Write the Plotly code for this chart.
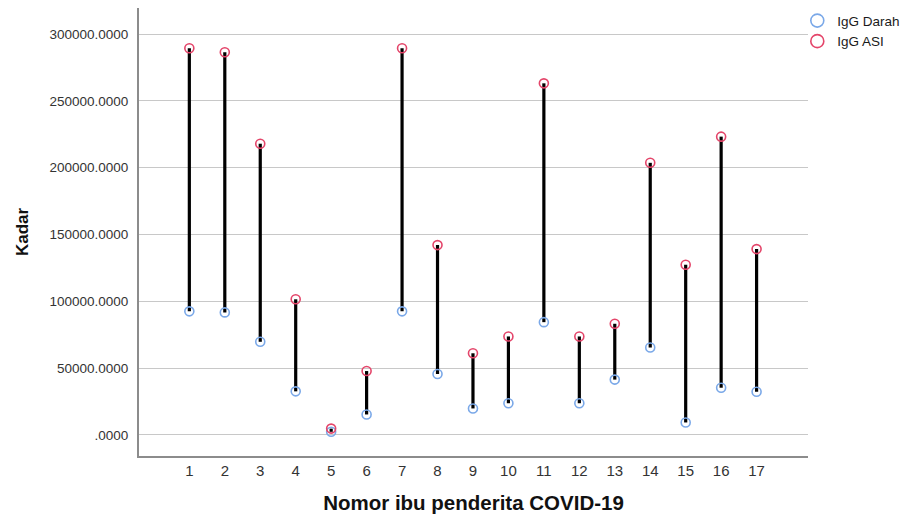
import plotly.graph_objects as go

nomor = list(range(1, 18))
igg_darah = [92500, 91700, 69700, 32600, 2300, 15300, 92500, 45600, 19800, 23700,
             84400, 23700, 41400, 65400, 9300, 35300, 32300]
igg_asi = [289500, 286500, 218000, 101500, 4700, 47800, 289500, 142100, 61100, 73700,
           263200, 73700, 83200, 203700, 127400, 223300, 139100]

y_ticks = [0, 50000, 100000, 150000, 200000, 250000, 300000]
y_tick_text = [".0000", "50000.0000", "100000.0000", "150000.0000",
               "200000.0000", "250000.0000", "300000.0000"]

BLUE = "#7aa8e8"
RED = "#e4456a"
FONT = "Liberation Sans, Arial, sans-serif"

lx, ly = [], []
for n, a, b in zip(nomor, igg_darah, igg_asi):
    lx += [n, n, None]
    ly += [a, b, None]

fig = go.Figure()
fig.add_trace(go.Scatter(x=lx, y=ly, mode="lines", line=dict(color="black", width=3.2),
                         showlegend=False, hoverinfo="skip"))
fig.add_trace(go.Scatter(x=nomor, y=igg_darah, mode="markers", name="IgG Darah",
                         showlegend=False,
                         marker=dict(symbol="circle-open", size=9, color=BLUE,
                                     line=dict(width=1.6, color=BLUE))))
fig.add_trace(go.Scatter(x=nomor, y=igg_asi, mode="markers", name="IgG ASI",
                         showlegend=False,
                         marker=dict(symbol="circle-open", size=9, color=RED,
                                     line=dict(width=1.6, color=RED))))
# legend entries (larger symbols as in the reference legend)
fig.add_trace(go.Scatter(x=[None], y=[None], mode="markers", name="IgG Darah",
                         marker=dict(symbol="circle-open", size=13, color=BLUE,
                                     line=dict(width=1.6, color=BLUE))))
fig.add_trace(go.Scatter(x=[None], y=[None], mode="markers", name="IgG ASI",
                         marker=dict(symbol="circle-open", size=13, color=RED,
                                     line=dict(width=1.6, color=RED))))

fig.update_layout(
    width=906, height=514,
    margin=dict(l=139, r=98, t=8, b=58, autoexpand=False),
    plot_bgcolor="white", paper_bgcolor="white",
    font=dict(family=FONT, color="#222"),
    legend=dict(x=0.984, y=1.006, xanchor="left", yanchor="top",
                font=dict(size=13.5, color="#1a1a1a"), tracegroupgap=0,
                itemwidth=30, bgcolor="rgba(0,0,0,0)"),
    xaxis=dict(range=[-0.42, 18.45], tickmode="array", tickvals=nomor,
               ticktext=[str(n) for n in nomor], showgrid=False, zeroline=False,
               showline=True, linecolor="#8c8c8c", linewidth=2, automargin=False,
               tickfont=dict(size=15, color="#333"), ticks="", ticklen=0,
               title=dict(text="<b>Nomor ibu penderita COVID-19</b>",
                          font=dict(size=20.5, color="#111", family=FONT),
                          standoff=18)),
    yaxis=dict(range=[-15800, 319600], tickmode="array", tickvals=y_ticks,
               ticktext=y_tick_text, showgrid=True, gridcolor="#c8c8c8", gridwidth=1.3,
               zeroline=False, showline=True, linecolor="#8c8c8c", linewidth=2,
               automargin=False,
               tickfont=dict(size=13.5, color="#333"), ticks="", ticklabelstandoff=6,
               title=dict(text="<b>Kadar</b>", font=dict(size=17, color="#111", family=FONT),
                          standoff=17)),
)

fig.write_html("out.html", config={"displayModeBar": False},
               post_script="document.body.style.margin='0';document.body.style.overflow='hidden';")
